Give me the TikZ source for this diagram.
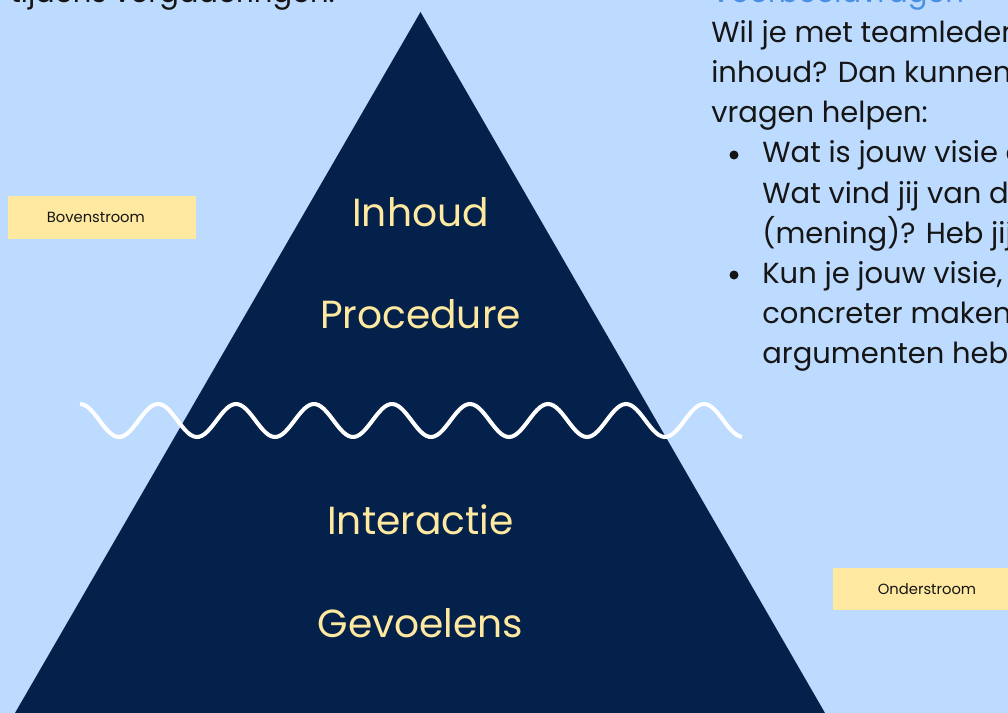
\documentclass[tikz,border=0pt]{standalone}
\usepackage{fontspec}
\setmainfont{Poppins}
\usetikzlibrary{positioning}
\definecolor{SkyColor}{HTML}{BDDBFF}
\definecolor{PyramidColor}{HTML}{03214A}
\definecolor{LevelColor}{HTML}{FFE9A0}
\definecolor{HeadColor}{HTML}{4A90E2}
\definecolor{InkColor}{HTML}{151515}

\begin{document}
\begin{tikzpicture}[
	x=0.02cm, y=-0.02cm,
	% Define styles and settings
	level/.style={text=LevelColor, font=\fontsize{22.3}{27}\selectfont, inner sep=0pt, anchor=base},
	body/.style={text=InkColor, font=\fontsize{16.5}{22}\selectfont, inner sep=0pt, anchor=base west},
	tag/.style={rectangle, fill=LevelColor, text=InkColor, font=\fontsize{8.4}{10}\selectfont, minimum width=3.76cm, minimum height=0.86cm, inner sep=0pt},
	dot/.style={fill=InkColor},
	wave/.style={white, line width=2.3pt}
	]
	\useasboundingbox (0,0) rectangle (1008,713);
	\clip (0,0) rectangle (1008,713);
	\fill[SkyColor] (0,0) rectangle (1008,713);

	% pyramid
	\fill[PyramidColor] (420.5,12) -- (825,713) -- (15,713) -- cycle;

	\node[level] (Inhoud) at (420.5,226) {Inhoud};
	\node[level] (Procedure) at (420.5,328) {Procedure};
	\node[level] (Interactie) at (420.5,534) {Interactie};
	\node[level] (Gevoelens) at (420.5,637) {Gevoelens};

	% waterline
	\draw[wave] plot[domain=80:742, samples=240] (\x, {420.5-16.5*cos(4.6154*(\x-80))});

	\node[tag] (Boven) at (102,217.5) {\hspace*{-7pt}Bovenstroom};
	\node[tag] (Onder) at (927,589) {Onderstroom};

	% left text, cut at the top
	\node[body] (Vergadering) at (10,3) {tijdens vergaderingen.};

	% right text, cut at the top and the right
	\node[body, text=HeadColor] (Kop) at (711,3) {Voorbeeldvragen};
	\node[body] (RegelA) at (711,43) {Wil je met teamleden};
	\node[body] (RegelB) at (711,83) {inhoud? Dan kunnen};
	\node[body] (RegelC) at (711,123) {vragen helpen:};
	\fill[dot] (734,155) circle (4.5);
	\node[body] (RegelD) at (762,163) {Wat is jouw visie op};
	\node[body] (RegelE) at (762,203) {Wat vind jij van dit};
	\node[body] (RegelF) at (762,243) {(mening)? Heb jij};
	\fill[dot] (734,275) circle (4.5);
	\node[body] (RegelG) at (762,283) {Kun je jouw visie,};
	\node[body] (RegelH) at (762,323) {concreter maken};
	\node[body] (RegelI) at (762,363) {argumenten hebben};

\end{tikzpicture}
\end{document}
